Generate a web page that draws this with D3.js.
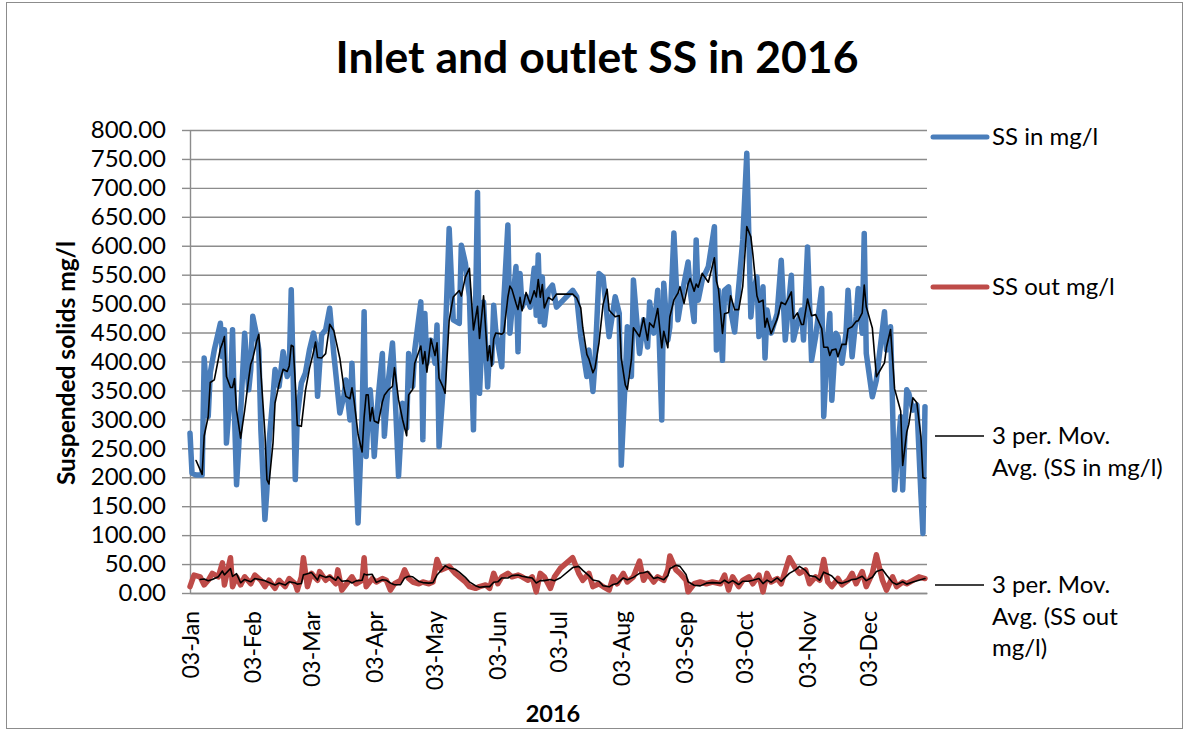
<!DOCTYPE html>
<html><head><meta charset="utf-8">
<script src="https://cdn.jsdelivr.net/npm/d3@7"></script>
<style>body{margin:0;background:#fff}svg{display:block}</style>
</head><body>
<svg id="chart" width="1186" height="732"></svg>
<script>
// ---- data (day of year 2016, value in mg/l) ----
const inDays = [3,4,6,9,10,12,13,15,18,19,20,21,23,24,25,26,28,30,32,33,34,36,37,38,40,41,42,44,45,47,49,51,52,53,54,55,56,58,60,62,64,65,66,68,70,72,74,77,79,80,82,83,84,86,88,89,90,91,92,93,94,96,98,99,101,103,104,106,108,110,111,113,114,117,118,119,120,122,124,125,126,128,129,131,133,136,137,139,141,143,145,146,148,150,151,152,153,154,157,158,160,161,162,164,165,166,167,169,171,173,174,175,176,177,178,180,182,184,192,194,196,197,199,200,202,203,205,207,209,210,213,215,216,218,219,221,222,225,227,229,230,232,234,236,237,239,240,242,244,245,247,249,250,252,253,254,256,259,262,263,264,266,267,269,270,272,274,276,278,280,281,283,284,286,287,288,290,293,295,297,300,301,303,305,306,308,310,312,315,316,318,319,320,322,323,325,327,328,330,332,333,335,336,337,340,342,346,347,349,351,354,355,357,358,360,362,364,365,366];
const inValues = [276,207,204,204,406,305,380,420,466,408,455,259,351,455,305,187,311,449,351,386,478,443,420,282,127,179,259,340,386,357,417,374,386,524,368,196,305,363,380,420,449,432,340,446,455,492,414,311,340,368,299,397,305,121,305,486,236,305,351,305,236,340,414,271,368,432,368,202,328,285,414,357,420,503,265,483,397,437,397,463,253,351,432,630,472,466,601,570,512,282,692,345,503,356,423,397,497,454,391,506,636,449,489,564,417,552,494,512,494,561,480,584,469,546,463,523,532,494,523,512,443,420,374,420,348,397,552,546,477,443,512,483,221,374,460,374,541,414,472,425,503,449,523,299,535,437,460,622,472,494,535,572,523,469,610,506,541,564,633,420,523,402,523,529,489,451,529,610,760,477,518,546,443,529,406,489,449,483,575,437,549,437,466,489,437,598,402,443,526,305,443,483,333,449,443,397,449,523,408,477,526,449,621,414,339,368,486,420,460,178,305,178,351,345,316,325,170,103,322];
const outDays = [3,5,8,10,12,14,17,19,20,23,24,26,28,30,33,35,38,40,42,45,47,50,52,55,56,58,59,61,63,66,67,70,72,75,76,78,81,83,85,88,89,90,93,95,98,100,102,104,107,109,111,113,116,118,121,123,125,127,129,131,134,136,139,141,144,146,149,151,153,155,157,160,162,165,167,170,172,174,176,178,181,183,186,192,195,197,200,202,205,207,210,212,214,217,219,222,225,227,229,232,234,237,239,240,243,245,248,249,252,255,258,261,265,267,269,271,274,276,279,281,284,286,288,290,293,295,299,302,304,307,309,312,314,316,318,320,323,325,328,330,332,335,337,340,342,345,347,350,352,355,357,360,363,366];
const outValues = [11,31,28,14,22,34,28,52,14,61,11,28,14,28,16,31,22,11,22,8,22,11,25,16,5,28,61,11,34,22,37,22,28,16,40,5,19,28,16,22,61,11,25,19,25,22,5,16,22,40,25,19,16,19,16,19,58,40,43,46,34,28,19,11,8,11,14,8,34,16,28,34,28,31,28,22,28,2,34,28,8,28,43,61,34,22,34,11,16,11,5,28,16,34,19,28,55,22,34,19,28,22,40,64,40,34,22,2,16,19,16,19,16,31,5,28,11,22,28,16,31,2,34,19,25,16,61,43,34,40,16,28,22,58,19,11,25,14,22,34,16,37,11,34,66,22,5,28,11,19,16,22,28,25];
const yTicks = [0,50,100,150,200,250,300,350,400,450,500,550,600,650,700,750,800];
const monthTickDates = ["2016-01-03","2016-02-03","2016-03-03","2016-04-03","2016-05-03","2016-06-03","2016-07-03","2016-08-03","2016-09-03","2016-10-03","2016-11-03","2016-12-03"];
const legendLabels = [["SS in mg/l"],["SS out mg/l"],["3 per. Mov.","Avg. (SS in mg/l)"],["3 per. Mov.","Avg. (SS out","mg/l)"]];
const chartTitle = "Inlet and outlet SS in 2016";
const yTitle = "Suspended solids mg/l";
const xTitle = "2016";

// ---- helpers ----
const FONT = "Lato, 'Open Sans', sans-serif";
const BLUE = "#4A7EBB", RED = "#BE4B48", GRID = "#8C8C8C";
const toDate = d => new Date(2016, 0, d);
const parse = d3.timeParse("%Y-%m-%d");
function movAvg(vals, n) { return vals.map((v, i) => i < n - 1 ? null : d3.mean(vals.slice(i - n + 1, i + 1))); }

const ssIn = inDays.map((d, i) => ({date: toDate(d), v: inValues[i]}));
const ssOut = outDays.map((d, i) => ({date: toDate(d), v: outValues[i]}));
const maInVals = movAvg(inValues, 3), maOutVals = movAvg(outValues, 3);
const maIn = inDays.map((d, i) => ({date: toDate(d), v: maInVals[i]}));
const maOut = outDays.map((d, i) => ({date: toDate(d), v: maOutVals[i]}));

const L = 190, R = 927, T = 130, B = 593;
const x = d3.scaleTime().domain([toDate(3), toDate(367)]).range([L, R]);
const y = d3.scaleLinear().domain([0, 800]).range([B, T]);

const svg = d3.select("#chart");
svg.append("rect").attr("x", 0).attr("y", 0).attr("width", 1186).attr("height", 732).attr("fill", "#fff");
svg.append("rect").attr("x", 6.5).attr("y", 2.5).attr("width", 1176).attr("height", 726)
  .attr("fill", "none").attr("stroke", GRID).attr("stroke-width", 1);

// gridlines
const grid = svg.append("g").attr("transform", `translate(${L},0)`)
  .call(d3.axisLeft(y).tickValues(yTicks).tickSize(-(R - L)).tickFormat(""));
grid.select(".domain").remove();
grid.selectAll("line").attr("stroke", GRID).attr("stroke-width", 1.4);

// y axis
const yAx = svg.append("g").attr("transform", `translate(${L},0)`)
  .call(d3.axisLeft(y).tickValues(yTicks).tickSize(8).tickSizeOuter(0).tickPadding(16).tickFormat(d3.format(".2f")));
yAx.select(".domain").attr("stroke", GRID).attr("stroke-width", 1.4);
yAx.selectAll("line").attr("stroke", GRID).attr("stroke-width", 1.4);
yAx.selectAll("text").attr("font-family", FONT).attr("font-size", 24).attr("fill", "#000");

// x axis
const xAx = svg.append("g").attr("transform", `translate(0,${B})`)
  .call(d3.axisBottom(x).tickValues(monthTickDates.map(parse)).tickSize(0).tickSizeOuter(0).tickFormat(d3.timeFormat("%d-%b")));
xAx.select(".domain").attr("stroke", GRID).attr("stroke-width", 1.4);
xAx.selectAll("text").attr("font-family", FONT).attr("font-size", 23).attr("fill", "#000")
  .attr("transform", "rotate(-90)").attr("text-anchor", "end")
  .attr("x", -18).attr("y", 8).attr("dy", 0);

// series
const line = d3.line().defined(d => d.v != null).x(d => x(d.date)).y(d => y(d.v));
const series = [
  {data: ssIn, color: BLUE, w: 5.5},
  {data: ssOut, color: RED, w: 5.5},
  {data: maIn, color: "#000", w: 1.6},
  {data: maOut, color: "#000", w: 1.6}
];
svg.append("g").selectAll("path").data(series).join("path")
  .attr("d", s => line(s.data)).attr("fill", "none")
  .attr("stroke", s => s.color).attr("stroke-width", s => s.w)
  .attr("stroke-linejoin", "round").attr("stroke-linecap", "round");

// titles
svg.append("text").attr("x", 597).attr("y", 73).attr("text-anchor", "middle")
  .attr("font-family", FONT).attr("font-weight", "bold").attr("font-size", 44.5).text(chartTitle);
svg.append("text").attr("transform", "translate(75,363) rotate(-90)").attr("text-anchor", "middle")
  .attr("font-family", FONT).attr("font-weight", "bold").attr("font-size", 24.5).text(yTitle);
svg.append("text").attr("x", 553).attr("y", 722).attr("text-anchor", "middle")
  .attr("font-family", FONT).attr("font-weight", "bold").attr("font-size", 23.5).text(xTitle);

// legend
const legendY = [137, 287, 436, 585];
const leg = svg.append("g").selectAll("g").data(legendLabels).join("g")
  .attr("transform", (d, i) => `translate(0,${legendY[i]})`);
leg.append("line").attr("x1", (d, i) => i < 2 ? 933 : 935).attr("x2", (d, i) => i < 2 ? 987 : 984)
  .attr("stroke", (d, i) => series[i].color).attr("stroke-width", (d, i) => i < 2 ? 5 : 1.6)
  .attr("stroke-linecap", (d, i) => i < 2 ? "round" : "butt");
leg.each(function(lines) {
  const t = d3.select(this).append("text").attr("x", 992).attr("y", 8)
    .attr("font-family", FONT).attr("font-size", 24).attr("fill", "#000");
  lines.forEach((s, k) => t.append("tspan").attr("x", 992).attr("dy", k === 0 ? 0 : 31.5).text(s));
});
</script>
</body></html>
